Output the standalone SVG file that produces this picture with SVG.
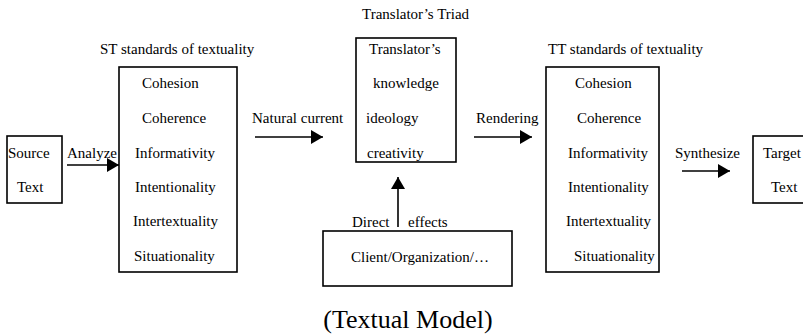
<svg xmlns="http://www.w3.org/2000/svg" width="803" height="334" viewBox="0 0 803 334" font-family="'Liberation Serif', 'DejaVu Serif', serif">
<style>
text{font-family:'Liberation Serif','DejaVu Serif',serif;font-size:15px;fill:#000}
.box{fill:#fff;stroke:#000;stroke-width:1.6}
.conn{stroke:#000;stroke-width:1.6;fill:none}
.big{font-size:26px}
</style>
<defs>
<marker id="ah" markerWidth="12" markerHeight="14" refX="12" refY="7" orient="auto" markerUnits="userSpaceOnUse">
<path d="M0,0 L12,7 L0,14 Z" fill="#000"/>
</marker>
</defs>
<rect width="803" height="334" fill="#fff"/>
<g id="source">
<rect class="box" x="7" y="136" width="55" height="67"/>
<text x="8" y="158">Source</text>
<text x="17" y="192">Text</text>
</g>
<g id="st">
<text x="100" y="54">ST standards of textuality</text>
<rect class="box" x="119" y="67" width="118" height="205"/>
<text x="142" y="88">Cohesion</text>
<text x="142" y="123">Coherence</text>
<text x="135" y="158">Informativity</text>
<text x="135" y="192">Intentionality</text>
<text x="133" y="226">Intertextuality</text>
<text x="134" y="261">Situationality</text>
</g>
<g id="triad">
<text x="362" y="19">Translator’s Triad</text>
<rect class="box" x="356" y="38" width="100" height="124"/>
<text x="369" y="54">Translator’s</text>
<text x="373" y="88">knowledge</text>
<text x="366" y="123">ideology</text>
<text x="367" y="158">creativity</text>
</g>
<g id="client">
<rect class="box" x="323" y="231" width="189" height="55"/>
<text x="351" y="262">Client/Organization/…</text>
</g>
<g id="tt">
<text x="548" y="54">TT standards of textuality</text>
<rect class="box" x="546" y="67" width="113" height="205"/>
<text x="575" y="88">Cohesion</text>
<text x="577" y="123">Coherence</text>
<text x="568" y="158">Informativity</text>
<text x="568" y="192">Intentionality</text>
<text x="566" y="226">Intertextuality</text>
<text x="574" y="261">Situationality</text>
</g>
<g id="target">
<rect class="box" x="753" y="136" width="60" height="67"/>
<text x="763" y="158">Target</text>
<text x="771" y="192">Text</text>
</g>
<g id="connectors">
<line class="conn" x1="67" y1="165" x2="119" y2="165" marker-end="url(#ah)"/>
<text x="67" y="158">Analyze</text>
<line class="conn" x1="255" y1="137" x2="323" y2="137" marker-end="url(#ah)"/>
<text x="252" y="123">Natural current</text>
<line class="conn" x1="474" y1="137" x2="532" y2="137" marker-end="url(#ah)"/>
<text x="476" y="123">Rendering</text>
<line class="conn" x1="682" y1="171" x2="730" y2="171" marker-end="url(#ah)"/>
<text x="675" y="158">Synthesize</text>
<line class="conn" x1="398" y1="227" x2="398" y2="177" marker-end="url(#ah)"/>
<text x="352" y="227">Direct</text>
<text x="408" y="227">effects</text>
</g>
<text class="big" x="408" y="328" text-anchor="middle">(Textual Model)</text>
</svg>
